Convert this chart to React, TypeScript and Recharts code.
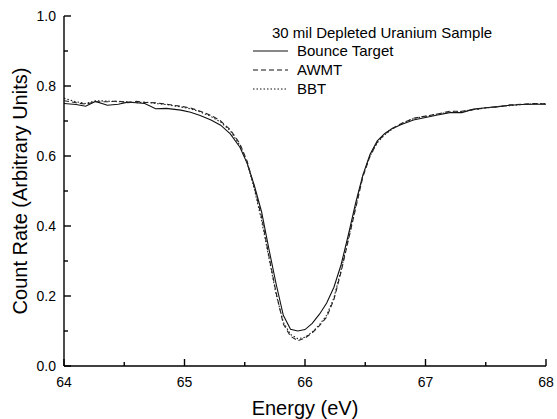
import React from "react";
import { LineChart, Line, XAxis, YAxis, Label, ReferenceLine } from "recharts";

const energy = [
  64.0, 64.1, 64.18, 64.26, 64.36, 64.45, 64.53, 64.6, 64.67, 64.76, 64.85, 64.97,
  65.05, 65.13, 65.22, 65.3, 65.38, 65.46, 65.52, 65.58, 65.64, 65.7, 65.76, 65.82,
  65.88, 65.94, 66.0, 66.06, 66.12, 66.18, 66.24, 66.3, 66.36, 66.42, 66.48, 66.54,
  66.6, 66.66, 66.72, 66.8, 66.9, 67.0, 67.1, 67.2, 67.3, 67.4, 67.5, 67.6, 67.7,
  67.8, 67.9, 68.0,
];

const bounceTarget = [
  0.75, 0.747, 0.742, 0.756, 0.745, 0.748, 0.754, 0.752, 0.75, 0.735, 0.736, 0.731,
  0.725, 0.716, 0.703, 0.688, 0.663, 0.625, 0.579, 0.515, 0.44, 0.335, 0.235, 0.145,
  0.105, 0.1, 0.104, 0.122, 0.148, 0.18, 0.225, 0.29, 0.375, 0.465, 0.545, 0.605,
  0.643, 0.664, 0.678, 0.69, 0.703, 0.71, 0.717, 0.724, 0.724, 0.734, 0.738, 0.741,
  0.745, 0.747, 0.748, 0.748,
];

const awmt = [
  0.758, 0.752, 0.748, 0.755, 0.755, 0.757, 0.752, 0.756, 0.753, 0.752, 0.748, 0.742,
  0.737, 0.728, 0.716, 0.7, 0.675, 0.635, 0.585, 0.51, 0.425, 0.315, 0.21, 0.12,
  0.085, 0.072, 0.08, 0.095, 0.115, 0.14, 0.19, 0.27, 0.36, 0.45, 0.54, 0.6,
  0.64, 0.662, 0.678, 0.693, 0.708, 0.714, 0.72, 0.728, 0.728, 0.732, 0.738, 0.74,
  0.746, 0.748, 0.75, 0.749,
];

const bbt = [
  0.765, 0.755, 0.75, 0.758, 0.757, 0.755, 0.755, 0.752, 0.754, 0.75, 0.747, 0.74,
  0.735, 0.726, 0.713, 0.697, 0.672, 0.63, 0.58, 0.505, 0.415, 0.31, 0.205, 0.125,
  0.09, 0.078, 0.082, 0.097, 0.118, 0.145, 0.195, 0.275, 0.365, 0.455, 0.545, 0.6,
  0.638, 0.66, 0.676, 0.692, 0.707, 0.713, 0.72, 0.725, 0.727, 0.733, 0.737, 0.741,
  0.744, 0.747, 0.749, 0.75,
];

const xTicks = [64, 64.5, 65, 65.5, 66, 66.5, 67, 67.5, 68];
const yTicks = [0, 0.1, 0.2, 0.3, 0.4, 0.5, 0.6, 0.7, 0.8, 0.9, 1.0];

const legendTitle = "30 mil Depleted Uranium Sample";
const seriesNames = ["Bounce Target", "AWMT", "BBT"];
const seriesDash = ["", "5 3", "1.5 2"];

const data = energy.map((e, i) => ({
  e,
  bounce: bounceTarget[i],
  awmt: awmt[i],
  bbt: bbt[i],
}));

const X_MIN = 64;
const X_MAX = 68;
const Y_MIN = 0;
const Y_MAX = 1;
const PLOT_W = 482;
const PLOT_H = 350;
const MAJOR_LEN = 7;
const MINOR_LEN = 4;

const FONT = "Arial, 'Liberation Sans', Helvetica, sans-serif";

const isMajorX = (v: number) => Math.abs(v - Math.round(v)) < 1e-6;
const isMajorY = (v: number) => Math.round(v * 10) % 2 === 0;

const XTick = (props: any) => {
  const { x, y, payload } = props;
  const v = payload.value;
  if (!isMajorX(v)) return <g />;
  return (
    <text x={x} y={y + 21} textAnchor="middle" fontSize={14} fontFamily={FONT} fill="#000">
      {String(v)}
    </text>
  );
};

const YTick = (props: any) => {
  const { x, y, payload } = props;
  const v = payload.value;
  if (!isMajorY(v)) return <g />;
  return (
    <text x={x - 8} y={y + 5} textAnchor="end" fontSize={14} fontFamily={FONT} fill="#000">
      {v.toFixed(1)}
    </text>
  );
};

export default function App() {
  const xLen = (px: number) => (px / PLOT_W) * (X_MAX - X_MIN);
  const yLen = (px: number) => (px / PLOT_H) * (Y_MAX - Y_MIN);
  return (
    <div style={{ position: "absolute", left: 0, top: 0, width: 557, height: 419, background: "#fff" }}>
      <LineChart
        width={557}
        height={419}
        data={data}
        margin={{ top: 16, right: 11, bottom: 0, left: 0 }}
      >
        <XAxis
          dataKey="e"
          type="number"
          domain={[X_MIN, X_MAX]}
          ticks={xTicks}
          tick={<XTick />}
          tickLine={false}
          tickSize={0}
          tickMargin={0}
          height={53}
          axisLine={{ stroke: "#000", strokeWidth: 1.4 }}
          allowDataOverflow
          interval={0}
        >
          <Label
            content={() => (
              <text x={305} y={415} textAnchor="middle" fontSize={20} fontFamily={FONT} fill="#000">
                Energy (eV)
              </text>
            )}
          />
        </XAxis>
        <YAxis
          type="number"
          domain={[Y_MIN, Y_MAX]}
          ticks={yTicks}
          tick={<YTick />}
          tickLine={false}
          tickSize={0}
          tickMargin={0}
          width={64}
          axisLine={{ stroke: "#000", strokeWidth: 1.4 }}
          allowDataOverflow
          interval={0}
        >
          <Label
            content={() => (
              <text
                x={27}
                y={191}
                transform="rotate(-90 27 191)"
                textAnchor="middle"
                fontSize={20}
                fontFamily={FONT}
                fill="#000"
              >
                Count Rate (Arbitrary Units)
              </text>
            )}
          />
        </YAxis>
        {xTicks.map((v) => (
          <ReferenceLine
            key={"xt" + v}
            segment={[
              { x: v, y: Y_MIN },
              { x: v, y: Y_MIN + yLen(isMajorX(v) ? MAJOR_LEN : MINOR_LEN) },
            ]}
            stroke="#000"
            strokeWidth={1.4}
            ifOverflow="visible"
          />
        ))}
        {yTicks.map((v) => (
          <ReferenceLine
            key={"yt" + v}
            segment={[
              { x: X_MIN, y: v },
              { x: X_MIN + xLen(isMajorY(v) ? MAJOR_LEN : MINOR_LEN), y: v },
            ]}
            stroke="#000"
            strokeWidth={1.4}
            ifOverflow="visible"
          />
        ))}
        <Line type="linear" dataKey="bounce" name={seriesNames[0]} stroke="#111" strokeWidth={1.1} dot={false} isAnimationActive={false} />
        <Line type="linear" dataKey="awmt" name={seriesNames[1]} stroke="#222" strokeWidth={1.1} strokeDasharray={seriesDash[1]} dot={false} isAnimationActive={false} />
        <Line type="linear" dataKey="bbt" name={seriesNames[2]} stroke="#222" strokeWidth={1.1} strokeDasharray={seriesDash[2]} dot={false} isAnimationActive={false} />
      </LineChart>
      <svg
        width={557}
        height={419}
        style={{ position: "absolute", left: 0, top: 0, pointerEvents: "none" }}
      >
        <text x={272} y={38} fontSize={15} fontFamily={FONT} fill="#000">
          {legendTitle}
        </text>
        {seriesNames.map((name, i) => (
          <g key={name}>
            <line
              x1={253}
              x2={288}
              y1={51 + i * 19}
              y2={51 + i * 19}
              stroke="#111"
              strokeWidth={1.1}
              strokeDasharray={seriesDash[i] || undefined}
            />
            <text x={297} y={56 + i * 19} fontSize={15} fontFamily={FONT} fill="#000">
              {name}
            </text>
          </g>
        ))}
      </svg>
    </div>
  );
}
